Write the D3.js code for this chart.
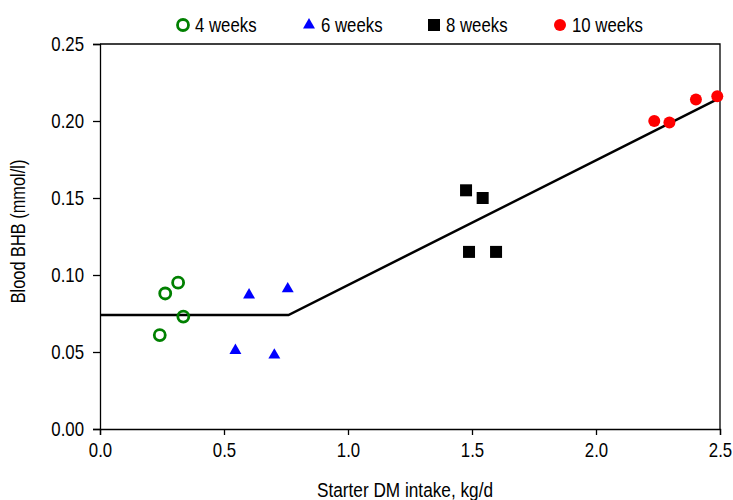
<!DOCTYPE html>
<html lang="en">
    <head>
        <meta charset="utf-8">
        <title>Blood BHB vs starter intake</title>
        <script type="text/javascript" src="https://cdn.jsdelivr.net/npm/d3@7"></script>
        <style type="text/css">
            body { margin: 0; background: #fff; }
            text { font-family: "Liberation Sans", Arial, sans-serif; fill: #000; }
            .axis path, .axis line { stroke: #000; stroke-width: 1.3; }
        </style>
    </head>
    <body>
        <div class="chart"></div>
        <script type="text/javascript">
            // 数据：每个周龄一组 (x = 开食料干物质采食量, y = 血液 BHB)
            var x4 = [0.241, 0.263, 0.315, 0.336];
            var y4 = [0.061, 0.088, 0.095, 0.073];
            var x6 = [0.546, 0.601, 0.703, 0.757];
            var y6 = [0.051, 0.087, 0.048, 0.091];
            var x8 = [1.476, 1.543, 1.488, 1.597];
            var y8 = [0.155, 0.150, 0.115, 0.115];
            var x10 = [2.235, 2.296, 2.403, 2.489];
            var y10 = [0.200, 0.199, 0.214, 0.216];
            // 折线回归 (broken-line)
            var lineX = [0, 0.76, 2.5];
            var lineY = [0.074, 0.074, 0.215];
            var xTicks = [0, 0.5, 1.0, 1.5, 2.0, 2.5];
            var yTicks = [0, 0.05, 0.10, 0.15, 0.20, 0.25];
            var seriesNames = ["4 weeks", "6 weeks", "8 weeks", "10 weeks"];

            var w = 733;
            var h = 500;
            var margin = {top: 44, right: 13, bottom: 71, left: 100};
            var sx = 0.84;   // 窄体字效果：水平压缩
            var svg = d3.select("div.chart")
                        .append("svg")
                        .attr("width", w)
                        .attr("height", h);

            var xScale = d3.scaleLinear()
                           .domain([0, 2.5])
                           .range([margin.left, w - margin.right]);
            var yScale = d3.scaleLinear()
                           .domain([0, 0.25])
                           .range([h - margin.bottom, margin.top]);

            // 坐标轴
            var xAxis = d3.axisBottom(xScale).tickValues(xTicks).tickFormat(d3.format(".1f")).tickSizeOuter(0).tickSize(6).tickPadding(8);
            var yAxis = d3.axisLeft(yScale).tickValues(yTicks).tickFormat(d3.format(".2f")).tickSizeOuter(0).tickSize(7).tickPadding(9);
            svg.append("g")
               .attr("class", "x axis")
               .attr("transform", "translate(0," + yScale(0) + ")")
               .call(xAxis)
               .selectAll("text")
               .style("font-size", "20px")
               .attr("transform", "scale(" + sx + ",1)");
            svg.append("g")
               .attr("class", "y axis")
               .attr("transform", "translate(" + xScale(0) + ",0)")
               .call(yAxis)
               .selectAll("text")
               .style("font-size", "20px")
               .attr("x", -16 / sx)
               .attr("transform", "scale(" + sx + ",1)");
            svg.selectAll(".axis .domain").attr("stroke", "#000");

            // 上、右边框
            svg.append("path")
               .attr("d", "M" + xScale(0) + "," + yScale(0.25) + "H" + xScale(2.5) + "V" + yScale(0))
               .attr("fill", "none")
               .attr("stroke", "#000")
               .attr("stroke-width", 1.3);

            // 轴标题
            svg.append("text")
               .attr("transform", "translate(" + ((xScale(0) + xScale(2.5)) / 2 - 5) + ",497) scale(" + sx + ",1)")
               .attr("text-anchor", "middle")
               .style("font-size", "20.5px")
               .text("Starter DM intake, kg/d");
            svg.append("text")
               .attr("transform", "translate(25," + (yScale(0.125) - 5) + ") rotate(-90) scale(" + sx + ",1)")
               .attr("text-anchor", "middle")
               .style("font-size", "19.5px")
               .text("Blood BHB (mmol/l)");

            // 回归线
            var line = d3.line()
                         .x(function(d){return xScale(d[0]);})
                         .y(function(d){return yScale(d[1]);});
            svg.append("path")
               .datum(d3.zip(lineX, lineY))
               .attr("d", line)
               .attr("fill", "none")
               .attr("stroke", "#000")
               .attr("stroke-width", 2.5);

            // 标记
            var triangle = d3.symbol().type(d3.symbolTriangle).size(62);
            svg.selectAll("circle.w4")
               .data(d3.zip(x4, y4))
               .enter()
               .append("circle")
               .attr("class", "w4")
               .attr("cx", function(d){return xScale(d[0]);})
               .attr("cy", function(d){return yScale(d[1]);})
               .attr("r", 5.5)
               .attr("fill", "none")
               .attr("stroke", "#008000")
               .attr("stroke-width", 2.8);
            svg.selectAll("path.w6")
               .data(d3.zip(x6, y6))
               .enter()
               .append("path")
               .attr("class", "w6")
               .attr("d", triangle)
               .attr("transform", function(d){return "translate(" + xScale(d[0]) + "," + yScale(d[1]) + ")";})
               .attr("fill", "#0000ff");
            svg.selectAll("rect.w8")
               .data(d3.zip(x8, y8))
               .enter()
               .append("rect")
               .attr("class", "w8")
               .attr("x", function(d){return xScale(d[0]) - 6;})
               .attr("y", function(d){return yScale(d[1]) - 6;})
               .attr("width", 12)
               .attr("height", 12)
               .attr("fill", "#000");
            svg.selectAll("circle.w10")
               .data(d3.zip(x10, y10))
               .enter()
               .append("circle")
               .attr("class", "w10")
               .attr("cx", function(d){return xScale(d[0]);})
               .attr("cy", function(d){return yScale(d[1]);})
               .attr("r", 6)
               .attr("fill", "#ff0000");

            // 图例
            var legendX = [183, 309, 434, 560];
            var legend = svg.selectAll("g.legend")
                            .data(seriesNames)
                            .enter()
                            .append("g")
                            .attr("class", "legend")
                            .attr("transform", function(d, i){return "translate(" + legendX[i] + ",25)";});
            legend.each(function(d, i){
                var g = d3.select(this);
                if (i === 0) {
                    g.append("circle").attr("r", 5.5).attr("fill", "none").attr("stroke", "#008000").attr("stroke-width", 2.8);
                } else if (i === 1) {
                    g.append("path").attr("d", triangle).attr("fill", "#0000ff");
                } else if (i === 2) {
                    g.append("rect").attr("x", -6).attr("y", -6).attr("width", 12).attr("height", 12).attr("fill", "#000");
                } else {
                    g.append("circle").attr("r", 6).attr("fill", "#ff0000");
                }
            });
            legend.append("text")
                  .attr("transform", "translate(12,7) scale(" + sx + ",1)")
                  .style("font-size", "20px")
                  .text(function(d){return d;});
        </script>
    </body>
</html>
